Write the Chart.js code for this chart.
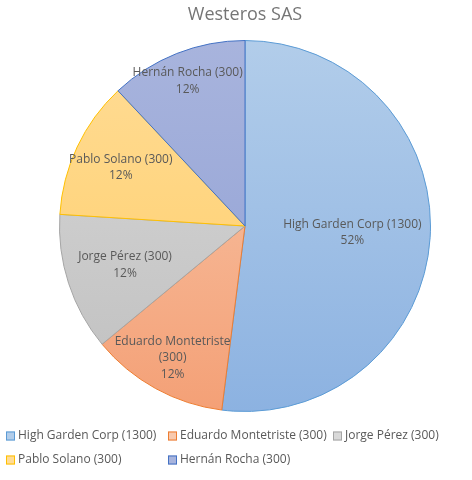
<!DOCTYPE html>
<html>
<head>
<meta charset="utf-8">
<script src="https://cdn.jsdelivr.net/npm/chart.js@4/dist/chart.umd.min.js"></script>
<style>
  html, body { margin: 0; padding: 0; background: #fff; }
  #wrap { width: 472px; height: 480px; position: relative; }
</style>
</head>
<body>
<div id="wrap"><canvas id="c" width="472" height="480"></canvas></div>
<script>
// ─── data ───
const TITLE = 'Westeros SAS';
const names = ['High Garden Corp', 'Eduardo Montetriste', 'Jorge Pérez', 'Pablo Solano', 'Hernán Rocha'];
const values = [1300, 300, 300, 300, 300];

// ─── colours (top / bottom of the gradient, and edge) ───
const FILL_TOP = ['#b2cdea', '#f8c9ad', '#d9d9d9', '#ffdc96', '#a8b4dd'];
const FILL_BOT = ['#8cb2e1', '#f4a076', '#bfbfbf', '#ffcd66', '#8f9fd4'];
const EDGE = ['#5b9bd5', '#ed7d31', '#a5a5a5', '#ffc000', '#4472c4'];
const TEXT = '#595959';
const FONT = '"Open Sans", "Noto Sans", sans-serif';
// how far out (share of radius) each slice's label sits, like excel's best fit
const LABEL_R = [0.58, 0.81, 0.68, 0.74, 0.84];

const legendLabels = names.map((n, i) => `${n} (${values[i]})`);
const total = values.reduce((a, b) => a + b, 0);

function gradientFor(ctx) {
  const chart = ctx.chart;
  const area = chart.chartArea;
  if (!area) return FILL_TOP[ctx.dataIndex];
  const g = chart.ctx.createLinearGradient(0, area.top, 0, area.bottom);
  g.addColorStop(0, FILL_TOP[ctx.dataIndex]);
  g.addColorStop(1, FILL_BOT[ctx.dataIndex]);
  return g;
}

// labels inside the slices, title and the excel-like legend
const decorations = {
  id: 'decorations',
  afterDatasetsDraw(chart) {
    const c = chart.ctx;
    const meta = chart.getDatasetMeta(0);
    c.save();
    c.fillStyle = TEXT;
    c.textAlign = 'center';
    c.textBaseline = 'middle';
    c.font = `12px ${FONT}`;
    meta.data.forEach((arc, i) => {
      const share = values[i] / total;
      const mid = (arc.startAngle + arc.endAngle) / 2;
      const r = arc.outerRadius * LABEL_R[i];
      const x = arc.x + Math.cos(mid) * r;
      const y = arc.y + Math.sin(mid) * r;
      let lines = [legendLabels[i]];
      if (c.measureText(lines[0]).width > 125 && share < 0.25) {
        lines = [names[i], `(${values[i]})`];
      }
      lines.push(Math.round(share * 100) + '%');
      const lh = 16.5;
      lines.forEach((t, k) => {
        c.fillText(t, x, y + (k - (lines.length - 1) / 2) * lh);
      });
    });

    // title
    c.font = `18px ${FONT}`;
    c.fillStyle = '#757575';
    c.fillText(TITLE, 245, 15);

    // legend: three columns, wrapping
    c.font = `12px ${FONT}`;
    c.textAlign = 'left';
    const cols = [6, 168, 333];
    const rows = [436, 460];
    legendLabels.forEach((t, i) => {
      const x = cols[i % 3];
      const y = rows[Math.floor(i / 3)];
      c.fillStyle = FILL_TOP[i];
      c.fillRect(x, y - 4.5, 9, 9);
      c.strokeStyle = EDGE[i];
      c.lineWidth = 1;
      c.strokeRect(x + 0.5, y - 4, 8, 8);
      c.fillStyle = TEXT;
      c.fillText(t, x + 12, y);
    });
    c.restore();
  }
};

new Chart(document.getElementById('c'), {
  type: 'pie',
  data: {
    labels: legendLabels,
    datasets: [{
      data: values,
      backgroundColor: gradientFor,
      borderColor: EDGE,
      borderWidth: 1,
    }],
  },
  options: {
    responsive: false,
    animation: false,
    layout: { padding: { top: 40, bottom: 68, left: 59, right: 41 } },
    plugins: {
      legend: { display: false },
      tooltip: { enabled: false },
    },
  },
  plugins: [decorations],
});
</script>
</body>
</html>
